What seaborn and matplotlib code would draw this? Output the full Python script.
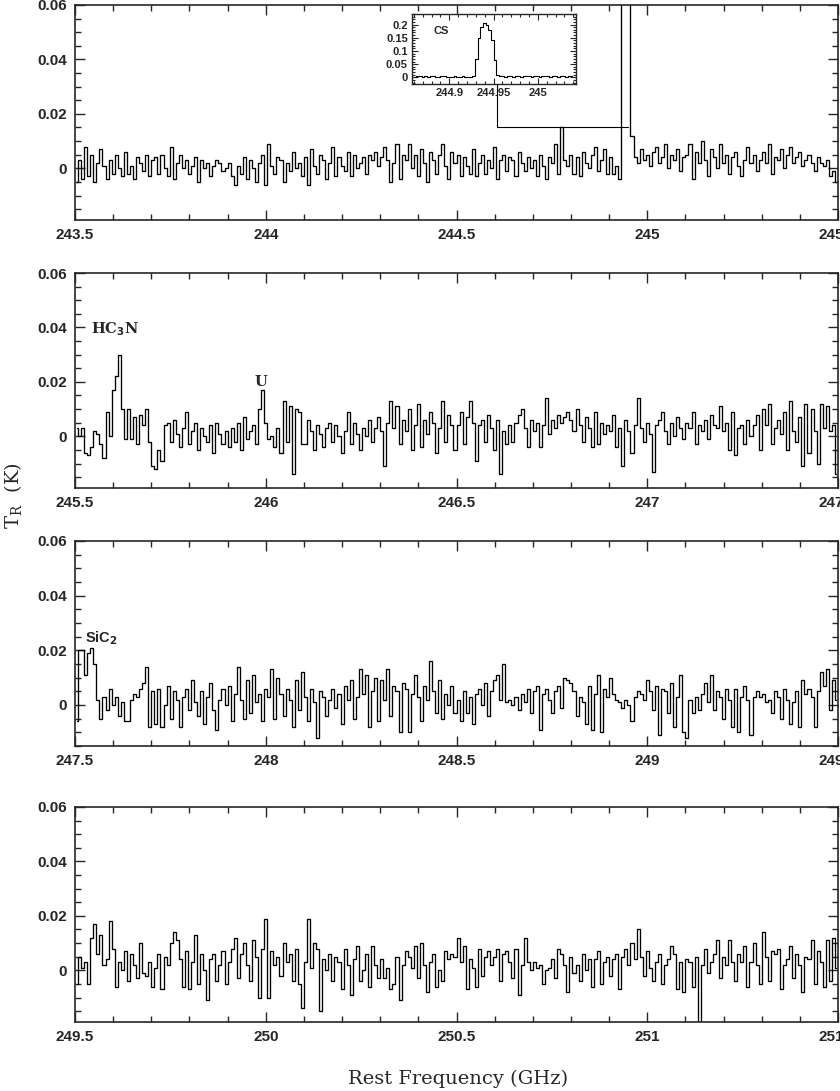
import numpy as np
import matplotlib
matplotlib.use("Agg")
import matplotlib.pyplot as plt
from matplotlib.ticker import MultipleLocator, FuncFormatter
import seaborn as sns

# channel width of the spectra (GHz), values below are T_R in mK
CHAN = 0.008
panel_start = [243.5, 245.5, 247.5, 249.5]
panel_ymin = [-0.019, -0.019, -0.015, -0.019]

tr_243 = [
    -5, 3, -4, 8, -3, 5, -5, 2, 7, 1, -4, 3, -2, 5, 0, -3, 6, -2, 1, -4, 4, 2, -1, 5, -3,
    3, 4, -2, 5, 0, -3, 8, -4, 2, 5, 0, 3, -2, 1, 4, -5, 3, 0, 2, -3, 1, 3, 2, -1, 0,
    2, -3, -6, 1, -2, 4, -4, 3, 0, -5, 2, 5, -6, 9, 1, -2, 4, 3, -5, 2, -1, 6, 0, 2, -3,
    4, -6, 7, 1, -2, 5, 3, -4, 2, 8, -3, 4, 1, -1, 6, -3, 5, 0, 2, 4, -2, 5, 3, 6, 1,
    4, 8, 3, -5, 2, 9, -4, 5, 3, 9, 0, 5, -3, 7, 2, -5, 6, 3, -2, 5, 9, 1, -4, 6, 2,
    5, -3, 4, 1, -2, 7, -3, 2, 5, -2, 3, 0, 8, -4, 3, 5, -1, 4, 3, -3, 6, 2, -1, 4, 0,
    3, -3, 5, 1, -4, 4, 2, 9, -2, 15, 3, 1, 5, -2, 4, -3, 6, 2, 0, 5, 8, -1, 3, 7, -2,
    4, -2, 1, -4, 90, 210, 200, 12, 4, 2, 7, 3, 5, 1, 6, 8, 2, 4, 9, 0, 5, 3, 7, -1, 4,
    5, 9, -4, 6, 2, 10, 3, -3, 7, 4, 0, 9, 2, 5, -2, 4, 6, 1, -3, 3, 8, 2, 5, -1, 3,
    6, 2, 9, -2, 4, 3, 7, 0, 5, 8, 2, 4, 6, 1, 3, 5, 2, -1, 4, 2, 1, 3, -3, -1, -5,
]
tr_245 = [
    3, 0, 3, -6, -7, -4, 2, 1, -3, -8, 9, 0, 17, 22, 30, 10, -1, 10, -1, 7, -3, 8, 4, 10, -2,
    -11, -12, -5, -9, 4, 5, -2, 6, 1, -4, 3, 9, -3, 2, 5, -5, 3, 0, -2, 4, -6, 5, 1, -3, 2,
    -4, 3, -2, 5, -5, 7, -1, 2, 4, -3, 10, 17, 5, -1, 0, -4, 3, -6, 13, -2, 11, -14, 10, 9, -3,
    -3, 6, 2, -5, 4, 1, -4, 3, 5, -2, 4, 0, -6, 2, 9, -3, 5, 1, -5, 3, 0, 6, -2, 3, 7,
    2, -11, 5, 13, 3, 11, -3, 6, 2, 10, -5, 4, 12, -4, 6, 1, 9, 5, -6, 3, 13, -2, 8, 4, -5,
    4, 9, -3, 7, 13, 5, -9, 4, 6, -2, 8, 3, -5, 6, -14, 2, -3, 4, -2, 5, 8, 10, 3, -4, 6,
    2, 5, -4, 4, 14, 1, 6, 3, 8, 5, 7, 9, 6, 2, 10, 4, -2, 7, 3, -4, 9, -3, 5, 1, 4,
    2, 8, -4, 3, -11, 6, 2, -6, 4, 14, 3, -2, 5, 1, -13, 4, 6, 9, 2, -3, 5, 0, 7, 3, -1,
    5, 3, 9, -3, 4, 2, 6, -1, 8, 4, 3, 11, 2, 5, -5, 9, -7, 3, 4, -3, 6, 0, 4, 8, -5,
    10, 4, 12, -3, 3, 6, 1, 9, -5, 13, 2, -2, 7, -11, 12, -6, 10, 2, -10, 12, 3, 11, 2, 4, -14,
]
tr_247 = [
    -6, 20, 20, 11, 19, 21, 15, 2, -5, 3, -2, 6, 0, 3, -4, 1, -6, -6, 2, 4, 3, 6, 8, 14, -8,
    5, -7, 6, -8, 0, 7, -5, 5, 2, -8, 3, 6, -2, 9, 1, -4, 5, -7, 3, 8, -2, -9, 2, 6, 0,
    7, -6, 4, 14, 2, -5, 9, -3, 11, 1, 4, -6, 6, 3, 13, -5, 10, 4, -4, 6, 2, -8, 9, -2, 12,
    3, -6, 6, 1, -12, 5, 3, -4, 2, 6, -1, 4, -7, 7, 2, 9, -5, 3, 13, 4, 11, -8, 5, 10, -6,
    9, 2, 13, -4, 7, 5, -10, 8, 6, -10, 4, 11, 3, -6, 7, 2, 16, 5, -3, 9, -5, 4, 0, 7, -3,
    2, -6, 5, -3, 3, -7, 4, 6, 0, 8, -4, 5, 9, 11, 2, 15, 1, 2, 0, 3, -2, 4, 1, 6, -3,
    5, 7, -9, 4, 6, 2, -3, 5, 7, -1, 10, 9, 8, 5, -4, 3, 1, -7, 7, -9, 4, 11, -10, 6, 3,
    10, 4, 2, 1, -1, 2, 0, -6, 3, 5, 4, 2, 9, 5, -2, 7, -11, 6, 5, -3, 8, -8, 3, 11, -10,
    -12, 2, -3, 3, -2, 4, 8, 1, 11, -2, 5, 3, -5, 6, 2, -8, 6, -10, 3, 7, 2, -11, 3, 5, 3,
    4, 1, 2, -3, 5, 3, -5, 6, 2, -7, 1, 5, -8, 9, 4, 6, 3, -8, 5, 12, 7, 13, -2, 9, 2,
]
tr_249 = [
    -5, 5, 1, 3, -5, 12, 17, 6, 13, 2, 4, 18, 8, -6, 3, 0, 7, -4, 6, 2, -3, 10, -1, -2, 3,
    -6, 1, 6, -7, 5, 2, 10, 14, 11, 4, -6, 7, -7, 3, 13, -5, 6, 0, -11, 4, 6, -4, 2, 7, -5,
    3, 8, 12, -3, 6, 10, 2, -4, 11, 5, -10, 8, 19, -10, 7, 2, 5, -2, 10, 3, 6, -4, 8, -5, -14,
    3, 19, 1, 10, 8, -15, 4, 0, 6, -4, 5, 3, -7, 8, 2, -9, 4, 9, -4, 0, 6, -6, 9, 2, -3,
    4, -3, 1, -7, -5, 5, -11, 2, 7, 5, 1, 9, -3, 10, 2, -8, 3, 6, -6, 0, -4, 7, 4, 6, 5,
    12, 3, 9, -7, 4, 1, -6, 8, -2, 5, 7, 2, 5, 8, -4, 6, 7, 3, -3, 8, -9, 2, 12, 3, 0,
    3, 1, 2, -5, 0, 1, 4, -3, 8, 6, 2, -8, 5, -1, 2, -4, 6, 0, 4, -6, 4, 7, -5, 3, 5,
    -2, 4, 6, -7, 5, 8, 2, 10, 4, 15, 5, -2, 7, 1, -4, 3, 6, -5, 2, 4, 9, 6, -7, 3, -8,
    4, 3, -6, 5, -21, 2, 8, -1, 3, 6, 11, -3, 5, 2, 11, 3, -4, 6, 3, 9, -6, 3, 10, 2, -5,
    14, 5, -4, 7, 6, 8, -7, 2, 4, 9, -3, 6, 2, -8, 5, 4, 11, -5, 7, 3, -6, 11, -4, 12, 1,
]
spectra = [tr_243, tr_245, tr_247, tr_249]

# CS line, zoomed (inset), 3 MHz channels from 244.86 GHz
CS_START = 244.86
CS_CHAN = 0.003
tr_cs = [
    3, 5, 4, 2, 4, 3, 5, 4, 3, 2, 4, 5, 3, 2, 3, 4, 2, 3, 4, 3, 2, 3, 4,
    70, 150, 190, 205, 200, 180, 140, 65,
    8, 4, 5, 3, 4, 5, 3, 6, 4, 3, 5, 4, 6, 3, 5, 4, 3, 5, 6, 4, 3, 5, 4, 2, 5, 4, 3, 6, 5,
]

# line labels: (panel, x, y, text, font)
labels = [
    (1, 245.605, 0.0393, "HC$_{\\mathbf{3}}$N", 'DejaVu Serif'),
    (1, 245.988, 0.0198, "U", 'DejaVu Serif'),
    (2, 247.568, 0.0245, "SiC$_{\\mathbf{2}}$", 'Liberation Sans'),
]

sns.set_style("ticks")
plt.rcParams['font.family'] = ['Liberation Sans', 'DejaVu Sans']
plt.rcParams['font.weight'] = 'bold'


def fmt(v, pos):
    if abs(v) < 1e-9:
        v = 0
    return f"{round(v, 4):g}"


fig = plt.figure(figsize=(8.4, 10.91), dpi=100)
H = 1091.0
W = 840.0
# (top px, bottom px) of each panel
boxes = [(5, 220), (273, 488), (541, 746), (807, 1022)]
axes = []
for k, (top, bot) in enumerate(boxes):
    ax = fig.add_axes([75 / W, 1 - bot / H, 763 / W, (bot - top) / H])
    x0 = panel_start[k]
    vals = np.array(spectra[k]) / 1000.0
    xs = x0 + CHAN * (np.arange(len(vals)) + 0.5)
    sns.lineplot(x=xs, y=vals, ax=ax, drawstyle='steps-mid', color='black',
                 linewidth=0.95, estimator=None, sort=False)
    ax.set_xlim(x0, x0 + 2.0)
    ax.set_ylim(panel_ymin[k], 0.06)
    ax.xaxis.set_major_locator(MultipleLocator(0.5))
    ax.xaxis.set_minor_locator(MultipleLocator(0.1))
    ax.yaxis.set_major_locator(MultipleLocator(0.02))
    ax.yaxis.set_minor_locator(MultipleLocator(0.005))
    ax.xaxis.set_major_formatter(FuncFormatter(fmt))
    ax.yaxis.set_major_formatter(FuncFormatter(fmt))
    ax.tick_params(which='both', direction='in', top=True, right=True, width=1.0,
                   labelsize=11)
    ax.tick_params(which='major', length=7.5, pad=6)
    ax.tick_params(which='minor', length=4)
    for s in ax.spines.values():
        s.set_linewidth(1.2)
    ax.set_xlabel("")
    ax.set_ylabel("")
    axes.append(ax)

for k, x, y, t, fam in labels:
    axes[k].text(x, y, t, ha='center', va='center', fontsize=10.5,
                 fontweight='bold', family=[fam])

# connector from inset to the CS line
axes[0].plot([244.606, 244.606, 244.95], [0.034, 0.0151, 0.0151],
             color='black', linewidth=0.8, zorder=1)

# inset with the CS line
ins = fig.add_axes([412 / W, 1 - 84 / H, 164 / W, 70 / H])
cs = np.array(tr_cs) / 1000.0
cx = CS_START + CS_CHAN * (np.arange(len(cs)) + 0.5)
sns.lineplot(x=cx, y=cs, ax=ins, drawstyle='steps-mid', color='black',
             linewidth=0.8, estimator=None, sort=False)
ins.set_xlim(244.858, 245.043)
ins.set_ylim(-0.025, 0.24)
ins.xaxis.set_major_locator(MultipleLocator(0.05))
ins.xaxis.set_minor_locator(MultipleLocator(0.01))
ins.yaxis.set_major_locator(MultipleLocator(0.05))
ins.yaxis.set_minor_locator(MultipleLocator(0.01))
ins.xaxis.set_major_formatter(FuncFormatter(fmt))
ins.yaxis.set_major_formatter(FuncFormatter(fmt))
ins.tick_params(which='both', direction='in', top=True, right=True, width=0.8,
                labelsize=8, pad=3)
ins.tick_params(which='major', length=4)
ins.tick_params(which='minor', length=2.5)
for s in ins.spines.values():
    s.set_linewidth(1.0)
ins.set_xlabel("")
ins.set_ylabel("")
ins.text(0.18, 0.76, "CS", transform=ins.transAxes, ha='center', va='center',
         fontsize=8, fontweight='bold')

fig.text(0.017, 0.546, "T$_\\mathregular{R}$  (K)", rotation=90, ha='center',
         va='center', fontsize=14, fontweight='normal', family=['DejaVu Serif'])
fig.text(0.545, 0.011, "Rest Frequency (GHz)", ha='center', va='center',
         fontsize=14, fontweight='normal', family=['DejaVu Serif'])

fig.savefig("out.png", dpi=100)
